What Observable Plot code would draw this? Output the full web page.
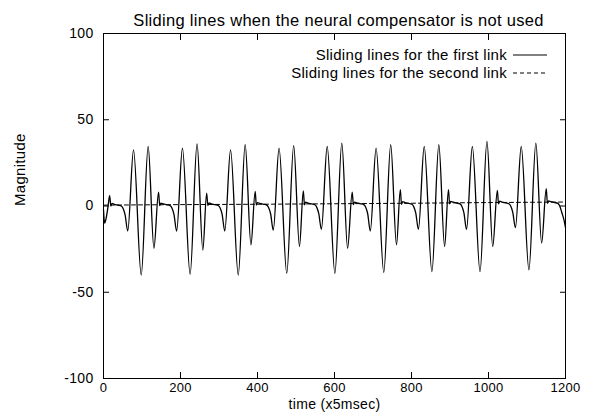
<!DOCTYPE html>
<html>
<head>
<meta charset="utf-8">
<script src="https://cdn.jsdelivr.net/npm/d3@7"></script>
<script src="https://cdn.jsdelivr.net/npm/@observablehq/plot@0.6"></script>
<style>
  html, body { margin: 0; padding: 0; background: #fff; }
</style>
</head>
<body>
<div id="chart"></div>
<script>
const titleText = "Sliding lines when the neural compensator is not used";
const xLabel = "time (x5msec)";
const yLabel = "Magnitude";
const xTicks = [0, 200, 400, 600, 800, 1000, 1200];
const yTicks = [-100, -50, 0, 50, 100];
const seriesNames = ["Sliding lines for the first link", "Sliding lines for the second link"];

// first link (solid)
const time1 = [
  0, 3, 6, 10, 13,
  16, 19, 22, 28, 38, 46, 51, 56, 63, 78, 98, 116, 131,
  143, 146, 149, 155, 165, 173, 178, 183, 190, 205, 225, 243, 258,
  268, 271, 274, 280, 290, 298, 303, 308, 315, 330, 350, 368, 383,
  394, 397, 400, 406, 416, 424, 429, 434, 441, 456, 476, 494, 509,
  519, 522, 525, 531, 541, 549, 554, 559, 566, 581, 601, 619, 634,
  646, 649, 652, 658, 668, 676, 681, 686, 693, 708, 728, 746, 761,
  771, 774, 777, 783, 793, 801, 806, 811, 818, 833, 853, 871, 886,
  896, 899, 902, 908, 918, 926, 931, 936, 943, 958, 978, 996, 1011,
  1023, 1026, 1029, 1035, 1045, 1053, 1058, 1063, 1070, 1085, 1105, 1123, 1138,
  1150, 1153, 1156, 1162, 1172, 1180, 1185, 1190, 1196, 1200
];
const link1 = [
  -2, -10, -8, -3, 2,
  6, 0, 1.5, 1, 0.5, 0, -1.5, -5, -14.5, 32.5, -40, 34.5, -24.5,
  8, 0.2, 1.7, 1.2, 0.7, 0.2, -1.3, -4.8, -14.5, 33.5, -39.5, 36, -25.5,
  7.5, 0.3, 1.8, 1.3, 0.8, 0.3, -1.2, -4.7, -14.5, 32.5, -40, 35.5, -22.5,
  8.5, 0.5, 2, 1.5, 1, 0.5, -1, -4.5, -14, 33.5, -39, 35, -23.5,
  8.7, 0.7, 2.2, 1.7, 1.2, 0.7, -0.8, -4.3, -13.5, 34.5, -39, 36.5, -24.5,
  8, 0.8, 2.3, 1.8, 1.3, 0.8, -0.7, -4.2, -14.5, 33.5, -38.5, 35.5, -22.5,
  9.5, 1, 2.5, 2, 1.5, 1, -0.5, -4, -13.5, 34.5, -38, 35.5, -23.5,
  9.5, 1.2, 2.7, 2.2, 1.7, 1.2, -0.3, -3.8, -13.5, 34.5, -38, 37.5, -23.5,
  9, 1.3, 2.8, 2.3, 1.8, 1.3, -0.2, -3.7, -12.5, 34.5, -37, 36.5, -21.5,
  10, 1.5, 3, 2.5, 2, 1.5, 0, -3.5, -8, -12.5
];

// second link (dashed), nearly flat near zero
const time2 = [0, 200, 400, 600, 800, 1000, 1200];
const link2 = [0.5, 0.8, 1, 1.3, 1.6, 2, 2.3];

const data1 = time1.map((t, i) => ({t, v: link1[i]}));
const data2 = time2.map((t, i) => ({t, v: link2[i]}));

const legendEntries = [
  {label: seriesNames[0], dash: null},
  {label: seriesNames[1], dash: "4,3"}
];

function legendMark(index, scales, values, dim) {
  const g = d3.create("svg:g")
    .attr("font-size", 15)
    .attr("letter-spacing", "0.3px")
    .attr("fill", "black");
  const xr = dim.width - dim.marginRight - 58;
  legendEntries.forEach((e, i) => {
    const y = dim.marginTop + 22 + i * 18;
    g.append("text")
      .attr("x", xr).attr("y", y)
      .attr("dy", "0.32em")
      .attr("text-anchor", "end")
      .text(e.label);
    const ln = g.append("line")
      .attr("x1", xr + 6).attr("x2", xr + 40)
      .attr("y1", y).attr("y2", y)
      .attr("stroke", "black").attr("stroke-width", 1);
    if (e.dash) ln.attr("stroke-dasharray", e.dash);
  });
  return g.node();
}

const fmt = d => String(d);

const chart = Plot.plot({
  width: 594,
  height: 417,
  marginLeft: 103,
  marginRight: 29,
  marginTop: 33,
  marginBottom: 39,
  style: {
    fontFamily: "'Liberation Sans', Arial, Helvetica, sans-serif",
    fontSize: "14px",
    color: "black",
    background: "white",
    overflow: "visible",
    letterSpacing: "0.3px"
  },
  x: {domain: [0, 1200]},
  y: {domain: [-100, 100]},
  marks: [
    Plot.frame({stroke: "black"}),
    Plot.axisX(xTicks, {anchor: "bottom", tickSize: -6, tickPadding: 10, tickFormat: fmt,
      fontSize: 13, label: null}),
    Plot.axisX(xTicks, {anchor: "top", tickSize: -6, tickFormat: () => "", label: null}),
    Plot.axisY(yTicks, {anchor: "left", tickSize: -6, tickPadding: 16, tickFormat: fmt,
      label: null}),
    Plot.axisY(yTicks, {anchor: "right", tickSize: -6, tickFormat: () => "", label: null}),
    Plot.line(data2, {x: "t", y: "v", stroke: "black", strokeWidth: 1, strokeDasharray: "4,3"}),
    Plot.line(data1, {x: "t", y: "v", stroke: "black", strokeWidth: 1.3, curve: "monotone-x"}),
    Plot.text([titleText], {frameAnchor: "top", dy: -19, dx: 4, fontSize: 16.5, fill: "black"}),
    Plot.text([xLabel], {frameAnchor: "bottom", dy: 30, fontSize: 14, fill: "black"}),
    Plot.text([yLabel], {frameAnchor: "left", dx: -83, rotate: -90, fontSize: 15, fill: "black"}),
    legendMark
  ]
});
document.getElementById("chart").appendChild(chart);
</script>
</body>
</html>
